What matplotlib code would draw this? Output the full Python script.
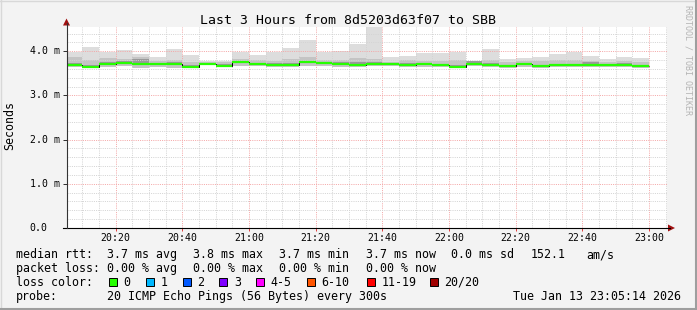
import numpy as np
import matplotlib
matplotlib.use('Agg')
import matplotlib.pyplot as plt
from matplotlib.patches import Rectangle, Polygon
from matplotlib.lines import Line2D
from matplotlib.ticker import MultipleLocator, FuncFormatter
from matplotlib.transforms import blended_transform_factory

plt.rcParams['font.family'] = ['DejaVu Sans Mono']

# 5 minute bins, start time in minutes after 20:00 (20:05 .. 22:55)
bin_start = np.arange(5, 180, 5)

# round trip times in ms (smoke = spread of the 20 pings per bin)
rtt_max = [3.99, 4.09, 3.99, 4.02, 3.93, 3.86, 4.05, 3.92, 3.79, 3.79, 3.99, 3.92,
           3.98, 4.07, 4.25, 3.98, 4.00, 4.16, 4.55, 3.86, 3.90, 3.97, 3.96, 3.99,
           3.79, 4.05, 3.83, 3.84, 3.88, 3.93, 3.98, 3.90, 3.82, 3.86, 3.84]
rtt_hi = [3.86, 3.80, 3.84, 3.82, 3.86, 3.78, 3.80, 3.76, 3.76, 3.75, 3.83, 3.80,
          3.78, 3.82, 3.86, 3.80, 3.80, 3.84, 3.83, 3.76, 3.80, 3.78, 3.78, 3.80,
          3.78, 3.80, 3.75, 3.78, 3.78, 3.80, 3.80, 3.79, 3.76, 3.78, 3.76]
rtt_q3 = [3.74, 3.70, 3.76, 3.77, 3.83, 3.74, 3.75, 3.69, 3.74, 3.71, 3.78, 3.74,
          3.73, 3.73, 3.79, 3.76, 3.75, 3.76, 3.76, 3.74, 3.73, 3.74, 3.71, 3.69,
          3.77, 3.73, 3.69, 3.74, 3.69, 3.72, 3.72, 3.75, 3.72, 3.73, 3.69]
rtt_med = [3.70, 3.65, 3.72, 3.74, 3.71, 3.71, 3.71, 3.65, 3.72, 3.67, 3.75, 3.71,
           3.70, 3.69, 3.75, 3.73, 3.71, 3.70, 3.71, 3.71, 3.69, 3.71, 3.68, 3.65,
           3.72, 3.70, 3.66, 3.71, 3.66, 3.69, 3.69, 3.70, 3.69, 3.69, 3.66]
rtt_min = [3.64, 3.62, 3.65, 3.66, 3.63, 3.64, 3.63, 3.62, 3.68, 3.64, 3.66, 3.66,
           3.65, 3.64, 3.66, 3.66, 3.64, 3.65, 3.66, 3.66, 3.64, 3.65, 3.64, 3.62,
           3.66, 3.65, 3.63, 3.65, 3.63, 3.64, 3.64, 3.65, 3.64, 3.64, 3.63]

ytick_vals = [0, 1, 2, 3, 4]
ytick_text = ['0.0', '1.0 m', '2.0 m', '3.0 m', '4.0 m']

loss_labels = ['0', '1', '2', '3', '4-5', '6-10', '11-19', '20/20']
loss_colors = ['#26ff00', '#00b8ff', '#0059ff', '#7e00ff', '#ff00ff', '#ff5500', '#ff0000', '#a00000']

title = 'Last 3 Hours from 8d5203d63f07 to SBB'
rtt_stats = ['3.7 ms avg', '3.8 ms max', '3.7 ms min', '3.7 ms now', '0.0 ms sd', '152.1', 'am/s']
loss_stats = ['0.00 % avg', '0.00 % max', '0.00 % min', '0.00 % now']
probe_text = '20 ICMP Echo Pings (56 Bytes) every 300s'
stamp = 'Tue Jan 13 23:05:14 2026'

W, H = 697, 310


def fx(x):
    return x / W


def fy(y):
    return 1 - y / H


fig = plt.figure(figsize=(W / 100, H / 100), dpi=100, facecolor='#f3f3f3')
ax = fig.add_axes([fx(66.5), fy(228), 600 / W, (228 - 27) / H])
ax.set_facecolor('white')

edges = np.append(bin_start, bin_start[-1] + 5)
ax.stairs(rtt_max, edges, baseline=rtt_min, fill=True, color='#dddddd', lw=0, zorder=1)
ax.stairs(rtt_hi, edges, baseline=rtt_min, fill=True, color='#c4c4c4', lw=0, zorder=1.1)
ax.stairs(rtt_q3, edges, baseline=rtt_med, fill=True, color='#999999', lw=0, zorder=1.2)
ax.stairs(rtt_med, edges, baseline=None, color='black', lw=0.72, zorder=4)
ax.hlines(rtt_med, bin_start, bin_start + 5, color=loss_colors[0], lw=1.6, zorder=5)

ax.set_xlim(5 + 14 / 60, 185 + 14 / 60)
ax.set_ylim(0, 4.55)

ax.xaxis.set_major_locator(MultipleLocator(20))
ax.xaxis.set_minor_locator(MultipleLocator(5))
ax.yaxis.set_major_locator(MultipleLocator(1))
ax.yaxis.set_minor_locator(MultipleLocator(0.2))
ax.xaxis.set_major_formatter(FuncFormatter(lambda v, p: '%02d:%02d' % (20 + int(v) // 60, int(v) % 60)))
ax.set_yticklabels([])

ax.set_axisbelow(False)
ax.grid(which='minor', color='#d4d4d4', lw=0.72, ls=(0, (1, 1.2)))
ax.grid(which='major', color='#f4a8a8', lw=0.72, ls=(0, (1, 1.2)))
for s in ax.spines.values():
    s.set_visible(False)

ax.tick_params(axis='x', which='major', length=2.2, width=0.72, color='#e04040',
               labelsize=7.1, pad=1.5)
ax.tick_params(axis='y', which='major', length=2.9, width=0.72, color='#333333')
ax.tick_params(which='minor', length=0)

ytr = blended_transform_factory(fig.transFigure, ax.transData)
for v, t in zip(ytick_vals, ytick_text):
    ax.text(fx(29.5), v, t, transform=ytr, ha='left', va='center', fontsize=7.1)

# axis lines with arrows
fig.add_artist(Line2D([fx(62.5), fx(670)], [fy(228), fy(228)], color='black', lw=0.8))
fig.add_artist(Line2D([fx(66.5), fx(66.5)], [fy(228), fy(23)], color='#333333', lw=0.8))
fig.add_artist(Polygon([(fx(668), fy(224.5)), (fx(668), fy(231.5)), (fx(675), fy(228))],
                       closed=True, color='#a01010', lw=0))
fig.add_artist(Polygon([(fx(63), fy(25.5)), (fx(70), fy(25.5)), (fx(66.5), fy(18.5))],
                       closed=True, color='#a01010', lw=0))

# frame shading
fig.add_artist(Line2D([0, 1], [fy(0.5), fy(0.5)], color='#d8d8d8', lw=1))
fig.add_artist(Line2D([fx(0.5), fx(0.5)], [0, 1], color='#d8d8d8', lw=1))
fig.add_artist(Line2D([0, 1], [fy(309), fy(309)], color='#9e9e9e', lw=1.5))
fig.add_artist(Line2D([fx(696), fx(696)], [0, 1], color='#9e9e9e', lw=1.5))

fig.text(fx(347.5), fy(23.5), title, ha='center', va='baseline', fontsize=9.5)
fig.text(fx(10), fy(126), 'Seconds', rotation=90, ha='center', va='center', fontsize=8.4)
fig.text(fx(688), fy(60), 'RRDTOOL / TOBI OETIKER', rotation=270, ha='center', va='center',
         fontsize=6, color='#b4b4b4')

lsize = 8.4
base = [258.3, 272.1, 285.9, 299.7]

fig.text(fx(16), fy(base[0]), 'median rtt:', va='baseline', fontsize=lsize)
for x, s in zip([107.3, 193.3, 279.3, 365.7, 451, 530.7, 586], rtt_stats):
    fig.text(fx(x), fy(base[0]), s, va='baseline', fontsize=lsize)

fig.text(fx(16), fy(base[1]), 'packet loss:', va='baseline', fontsize=lsize)
for x, s in zip([107.3, 193.3, 279.3, 365.7], loss_stats):
    fig.text(fx(x), fy(base[1]), s, va='baseline', fontsize=lsize)

fig.text(fx(16), fy(base[2]), 'loss color:', va='baseline', fontsize=lsize)
sq_x = [108.7, 146, 182.7, 219.3, 256, 307, 366.7, 430]
for x, lab, c in zip(sq_x, loss_labels, loss_colors):
    fig.add_artist(Rectangle((fx(x), fy(286)), 8 / W, 8 / H, facecolor=c,
                             edgecolor='black', lw=0.7))
    fig.text(fx(x + 14.5), fy(base[2]), lab, va='baseline', fontsize=lsize)

fig.text(fx(16), fy(base[3]), 'probe:', va='baseline', fontsize=lsize)
fig.text(fx(107.3), fy(base[3]), probe_text, va='baseline', fontsize=lsize)
fig.text(fx(513.3), fy(base[3]), stamp, va='baseline', fontsize=lsize)

fig.savefig('out.png', dpi=100, facecolor=fig.get_facecolor())
